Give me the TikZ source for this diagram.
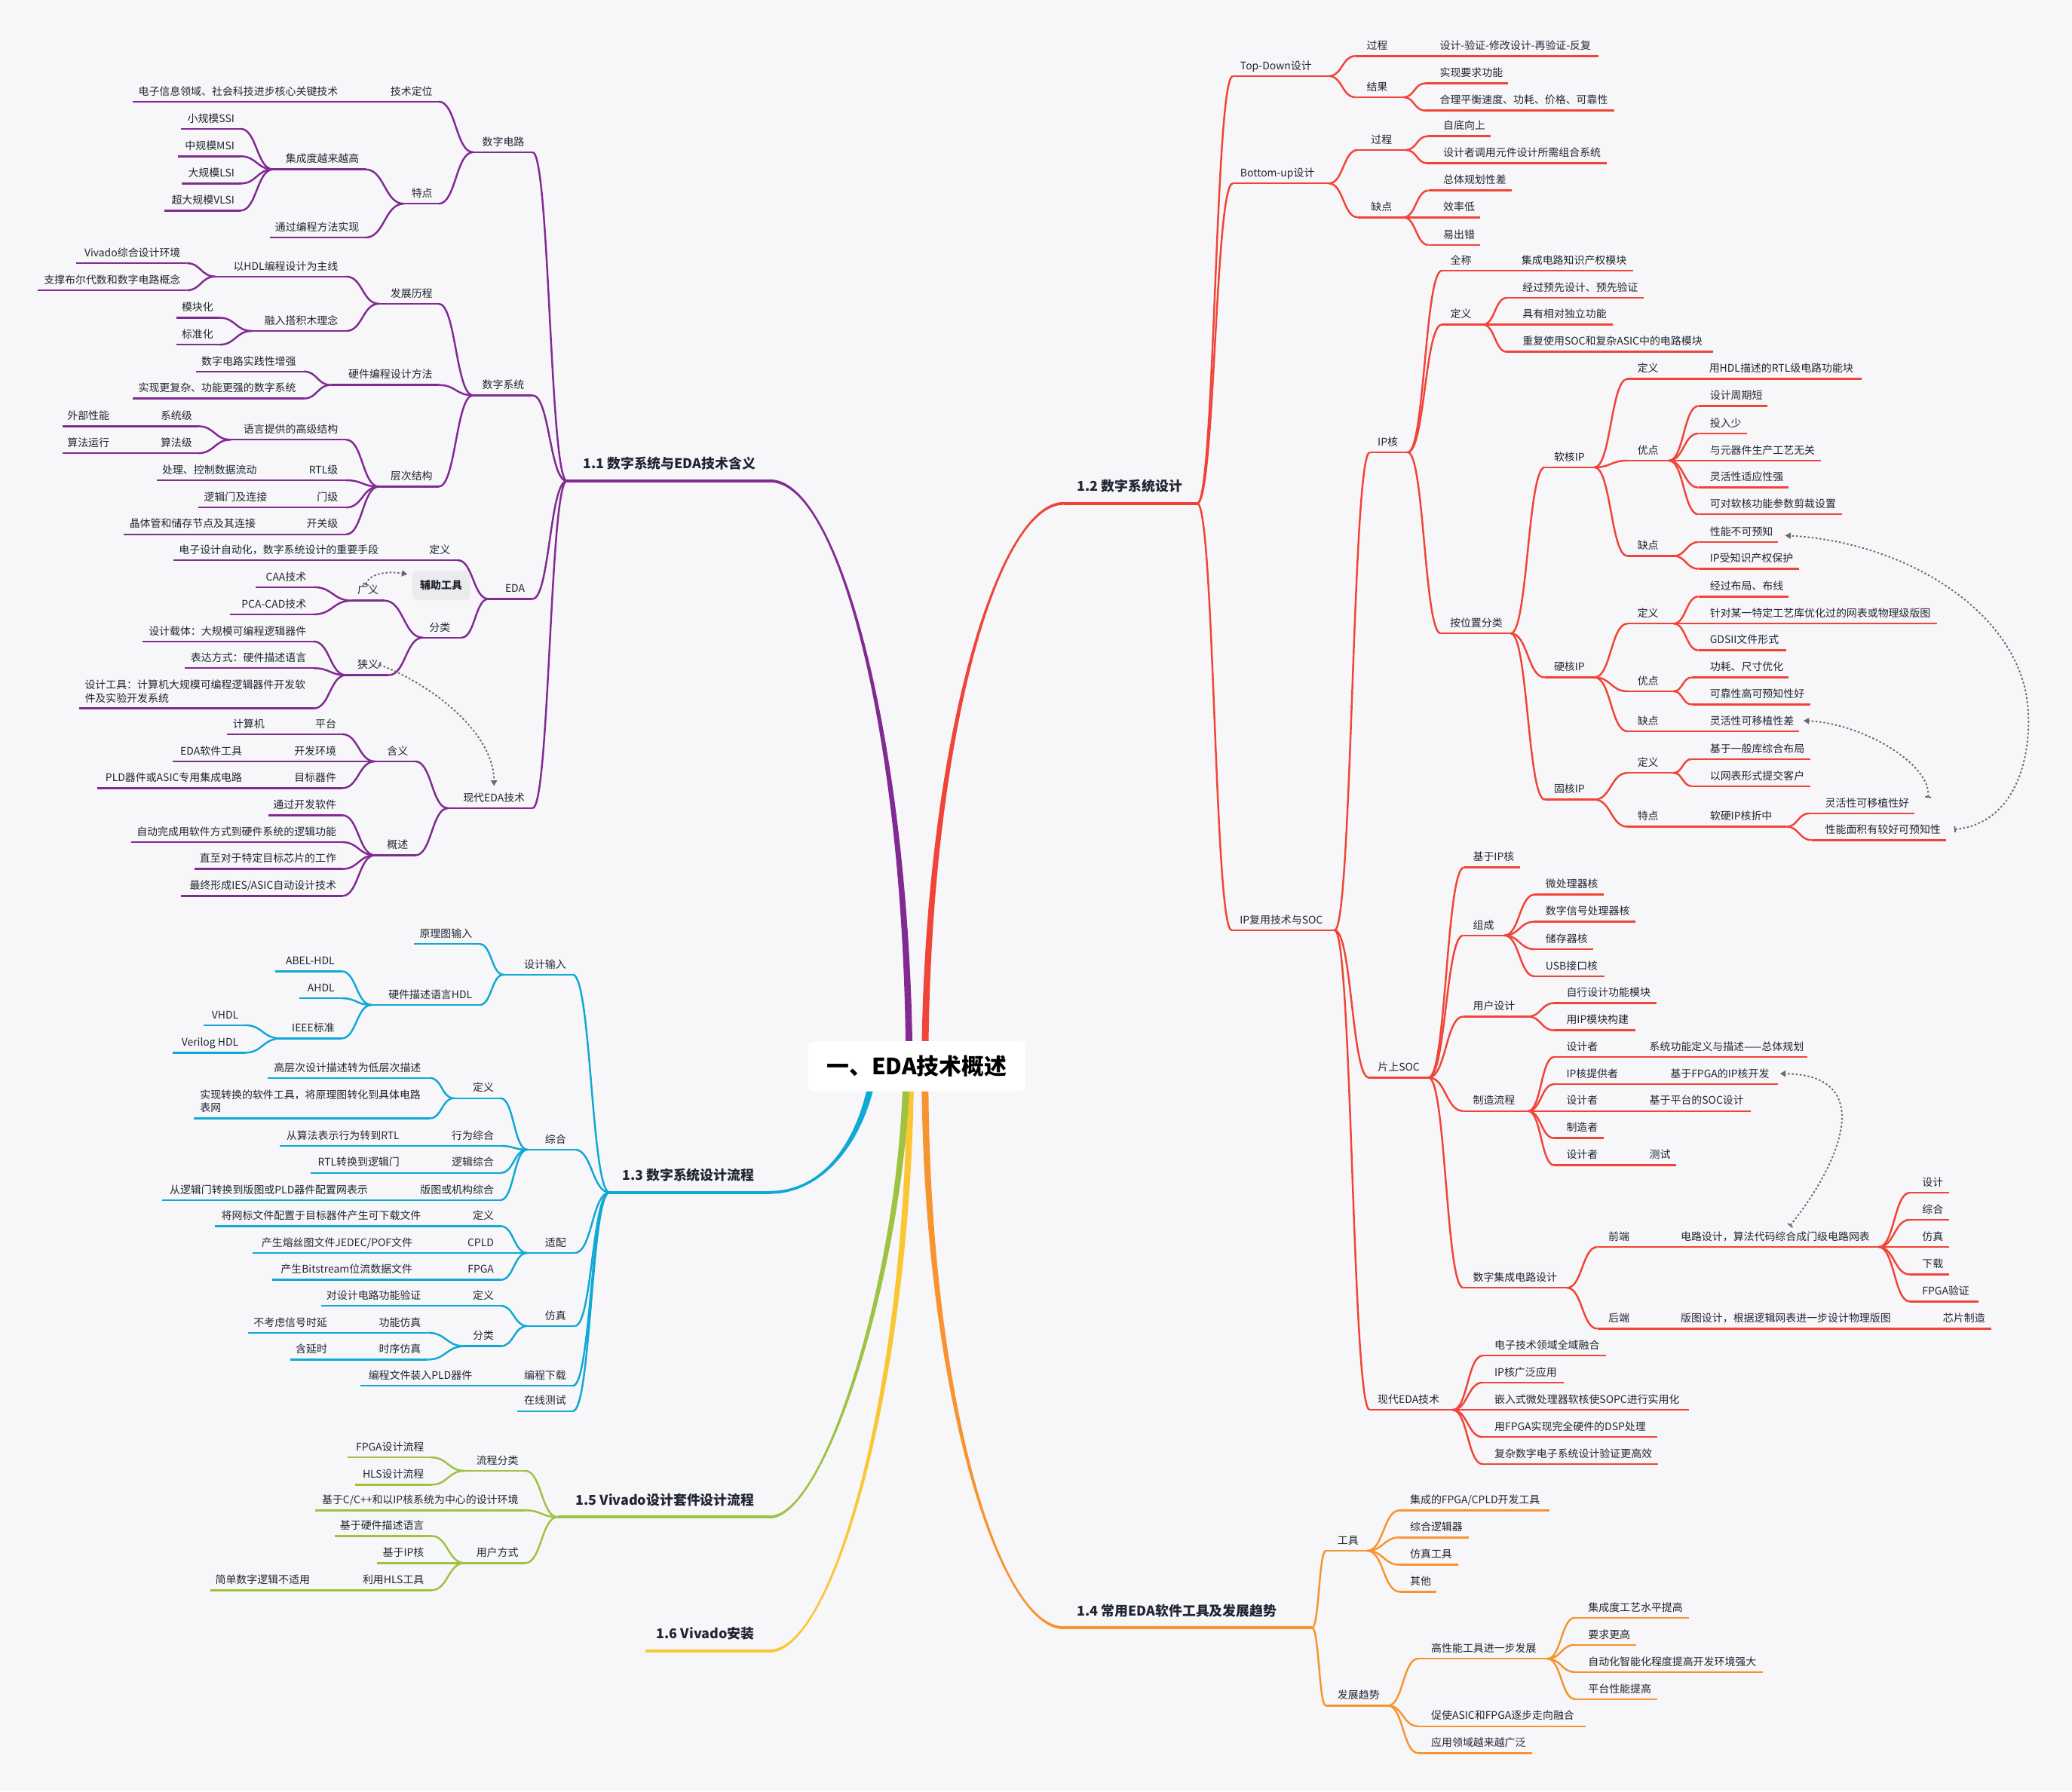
\documentclass[tikz,border=0pt]{standalone}
\usepackage{fontspec}
\setmainfont{Noto Sans CJK SC}
\usetikzlibrary{calc,arrows.meta}
\definecolor{bgc}{RGB}{247,247,249}
\definecolor{txc}{RGB}{33,37,51}
\definecolor{cpur}{RGB}{128,42,146}
\definecolor{cred}{RGB}{240,68,56}
\definecolor{ccya}{RGB}{16,168,212}
\definecolor{cgre}{RGB}{158,194,66}
\definecolor{cyel}{RGB}{250,198,52}
\definecolor{cora}{RGB}{247,148,48}
\definecolor{relc}{RGB}{105,105,110}
\definecolor{auxc}{RGB}{235,235,237}
\colorlet{bc}{cpur}
\tikzset{
 tx/.style={font=\fontsize{7.95}{10.2}\selectfont, text=txc, inner sep=0pt},
 ttl/.style={font=\fontsize{10.2}{12}\selectfont\bfseries, text=txc, inner sep=0pt},
 ul/.style={draw=bc, line width=1.4pt},
 ulone/.style={draw=bc, line width=2.2pt},
 cx/.style={draw=bc, line width=1.4pt},
 rel/.style={draw=relc, line width=1.1pt, dash pattern=on 1.4pt off 1.6pt,
   arrows={Bar[width=4.5pt,line width=1.1pt]-Triangle[width=4.6pt,length=4.2pt]}},
}
% left-side topic: name, x1, x2, y, text right edge, text
\newcommand\TopL[6]{%
  \coordinate (#1-l) at (#2,#4);
  \coordinate (#1-r) at (#3,#4);
  \draw[ul] (#1-l) -- (#1-r);
  \node[tx,anchor=base east] (#1) at (#5,#4-5) {#6};}
% right-side topic: name, x1, x2, y, text left edge, text
\newcommand\TopR[6]{%
  \coordinate (#1-l) at (#2,#4);
  \coordinate (#1-r) at (#3,#4);
  \draw[ul] (#1-l) -- (#1-r);
  \node[tx,anchor=base west] (#1) at (#5,#4-5) {#6};}
\newcommand\TitL[6]{%
  \coordinate (#1-l) at (#2,#4);
  \coordinate (#1-r) at (#3,#4);
  \draw[ulone] (#1-l) -- (#1-r);
  \node[ttl,anchor=base east] (#1) at (#5,#4-9.2) {#6};}
\newcommand\TitR[6]{%
  \coordinate (#1-l) at (#2,#4);
  \coordinate (#1-r) at (#3,#4);
  \draw[ulone] (#1-l) -- (#1-r);
  \node[ttl,anchor=base west] (#1) at (#5,#4-9.2) {#6};}
\newcommand\Cn[2]{\draw[cx] let \p1=(#1),\p2=(#2) in (\p1) .. controls ({0.5*\x1+0.5*\x2},\y1) and ({0.5*\x1+0.5*\x2},\y2) .. (\p2);}
\newcommand\CL[2]{\foreach \cc in {#2}{\Cn{#1-l}{\cc-r}}}
\newcommand\CR[2]{\foreach \cc in {#2}{\Cn{#1-r}{\cc-l}}}
\begin{document}
\begin{tikzpicture}[x=1pt,y=-1pt]
\fill[bgc] (0,0) rectangle (1568,1356);
\useasboundingbox (0,0) rectangle (1568,1356);

% ---------------- main branches (tapered) ----------------
\fill[cpur] (583,362.9) .. controls (635,362.9) and (688,560) .. (690.6,800) -- (685.4,800) .. controls (684,560) and (635,365.1) .. (583,365.1) -- cycle;
\fill[cred] (805,379.9) .. controls (755,379.9) and (700,560) .. (697.4,800) -- (702.6,800) .. controls (704,560) and (755,382.1) .. (805,382.1) -- cycle;
\fill[ccya] (582.5,901.4) .. controls (625,901.4) and (652.5,860) .. (659.4,805) -- (664.6,805) .. controls (657.5,860) and (625,903.6) .. (582.5,903.6) -- cycle;
\fill[cyel] (582.5,1248.5) .. controls (630,1248.5) and (686,1050) .. (686.4,810) -- (691.6,810) .. controls (690,1050) and (630,1250.7) .. (582.5,1250.7) -- cycle;
\fill[cgre] (582.5,1147.1) .. controls (625,1147.1) and (681,960) .. (683.4,810) -- (688.6,810) .. controls (685,960) and (625,1149.3) .. (582.5,1149.3) -- cycle;
\fill[cora] (805,1230.9) .. controls (755,1230.9) and (702,1050) .. (702.6,810) -- (697.4,810) .. controls (698,1050) and (755,1233.1) .. (805,1233.1) -- cycle;

% ---------------- 1.1 purple ----------------
\begin{scope}
\colorlet{bc}{cpur}
\TitL{A}{429}{583}{364}{572}{1.1 数字系统与EDA技术含义}
\TopL{a1}{358}{403}{115.2}{397}{数字电路}
\TopL{a11}{291}{332}{76.9}{327.5}{技术定位}
\TopL{a111}{100.4}{261}{76.9}{256}{电子信息领域、社会科技进步核心关键技术}
\TopL{a12}{305.6}{332}{154.2}{327.5}{特点}
\TopL{a121}{206.7}{276.5}{128.2}{272}{集成度越来越高}
\TopL{a1211}{136.8}{182}{97.5}{177.6}{小规模SSI}
\TopL{a1212}{134.8}{182}{118.3}{177.6}{中规模MSI}
\TopL{a1213}{137.4}{182}{138.9}{177.6}{大规模LSI}
\TopL{a1214}{124.3}{182}{159.4}{177.6}{超大规模VLSI}
\TopL{a122}{204.4}{276.5}{179.8}{272}{通过编程方法实现}
\TopL{a2}{358}{403}{299.2}{397}{数字系统}
\TopL{a21}{286.7}{332}{229.9}{327.5}{发展历程}
\TopL{a211}{163}{262}{209.3}{256}{以HDL编程设计为主线}
\TopL{a2111}{57.6}{141.2}{199.2}{136.8}{Vivado综合设计环境}
\TopL{a2112}{28.5}{141.2}{219.7}{136.8}{支撑布尔代数和数字电路概念}
\TopL{a212}{190.7}{262}{250.5}{256}{融入搭积木理念}
\TopL{a2121}{133.3}{166}{240.5}{161.6}{模块化}
\TopL{a2122}{133.3}{166}{260.9}{161.6}{标准化}
\TopL{a22}{250.3}{332}{291.4}{327.5}{硬件编程设计方法}
\TopL{a221}{148.5}{230}{281.2}{224.2}{数字电路实践性增强}
\TopL{a222}{100.4}{230}{301.6}{224.2}{实现更复杂、功能更强的数字系统}
\TopL{a23}{286.7}{332}{368.3}{327.5}{层次结构}
\TopL{a231}{174.7}{262}{332.8}{256}{语言提供的高级结构}
\TopL{a2311}{117.9}{150}{322.6}{145.6}{系统级}
\TopL{a23111}{47.2}{87.3}{322.6}{83}{外部性能}
\TopL{a2312}{117.9}{150}{343}{145.6}{算法级}
\TopL{a23121}{47.2}{87.3}{343}{83}{算法运行}
\TopL{a232}{230}{262}{363.5}{256}{RTL级}
\TopL{a2321}{118.8}{199.4}{363.5}{194.5}{处理、控制数据流动}
\TopL{a233}{235.8}{262}{384.1}{256}{门级}
\TopL{a2331}{150}{206.7}{384.1}{202.3}{逻辑门及连接}
\TopL{a234}{228.5}{262}{404.4}{256}{开关级}
\TopL{a2341}{93.7}{198}{404.4}{193.6}{晶体管和储存节点及其连接}
\TopL{a3}{369.7}{403}{453.3}{397.4}{EDA}
\TopL{a31}{320}{346.4}{424}{341}{定义}
\TopL{a311}{131}{291}{424}{286.7}{电子设计自动化，数字系统设计的重要手段}
\TopL{a32}{320}{349.3}{482.6}{341}{分类}
\TopL{a321}{266.4}{291}{454.6}{286.7}{广义}
\TopL{a3211}{193.6}{237.3}{444.4}{232}{CAA技术}
\TopL{a3212}{174}{237.3}{465}{232}{PCA-CAD技术}
\TopL{a322}{262}{294}{511}{286.7}{狭义}
\TopL{a3221}{107.7}{237.3}{485.5}{232}{设计载体：大规模可编程逻辑器件}
\TopL{a3222}{139.7}{237.3}{505.7}{232}{表达方式：硬件描述语言}
\coordinate (a3223-l) at (59.7,536.2);
\coordinate (a3223-r) at (237.3,536.2);
\draw[ul] (a3223-l) -- (a3223-r);
\node[tx,anchor=south west,align=left] (a3223) at (64,532.2) {设计工具：计算机大规模可编程逻辑器件开发软\\件及实验开发系统};
\TopL{a4}{339}{403}{611.7}{397.4}{现代EDA技术}
\TopL{a41}{283.8}{314.4}{576.3}{309}{含义}
\TopL{a411}{234.3}{259}{555.7}{254.7}{平台}
\TopL{a4111}{171.7}{205.2}{555.7}{200.3}{计算机}
\TopL{a412}{218.3}{259}{576.3}{254.7}{开发环境}
\TopL{a4121}{130.4}{188.6}{576.3}{183.4}{EDA软件工具}
\TopL{a413}{218.3}{259}{596.5}{254.7}{目标器件}
\TopL{a4131}{73.4}{188.6}{596.5}{183.4}{PLD器件或ASIC专用集成电路}
\TopL{a42}{283.8}{314.4}{647.3}{309}{概述}
\TopL{a421}{203}{259}{617}{254.7}{通过开发软件}
\TopL{a422}{99}{259}{637.4}{254.7}{自动完成用软件方式到硬件系统的逻辑功能}
\TopL{a423}{147}{259}{657.7}{254.7}{直至对于特定目标芯片的工作}
\TopL{a424}{136.8}{259}{678.1}{254.7}{最终形成IES/ASIC自动设计技术}
\CL{A}{a1,a2,a3,a4}
\CL{a1}{a11,a12}
\CL{a11}{a111}
\CL{a12}{a121,a122}
\CL{a121}{a1211,a1212,a1213,a1214}
\CL{a2}{a21,a22,a23}
\CL{a21}{a211,a212}
\CL{a211}{a2111,a2112}
\CL{a212}{a2121,a2122}
\CL{a22}{a221,a222}
\CL{a23}{a231,a232,a233,a234}
\CL{a231}{a2311,a2312}
\CL{a2311}{a23111}
\CL{a2312}{a23121}
\CL{a232}{a2321}
\CL{a233}{a2331}
\CL{a234}{a2341}
\CL{a3}{a31,a32}
\CL{a31}{a311}
\CL{a32}{a321,a322}
\CL{a321}{a3211,a3212}
\CL{a322}{a3221,a3222,a3223}
\CL{a4}{a41,a42}
\CL{a41}{a411,a412,a413}
\CL{a411}{a4111}
\CL{a412}{a4121}
\CL{a413}{a4131}
\CL{a42}{a421,a422,a423,a424}
\end{scope}
\node[fill=auxc, rounded corners=4pt, minimum width=43.7pt, minimum height=22.4pt, inner sep=0pt, font=\fontsize{7.95}{9}\selectfont\bfseries, text=txc] (aux) at (333.85,443.1) {辅助工具};

% ---------------- 1.3 cyan ----------------
\begin{scope}
\colorlet{bc}{ccya}
\TitL{C}{461.3}{582.5}{902.5}{571}{1.3 数字系统设计流程}
\TopL{c1}{381}{433.5}{737.7}{428.6}{设计输入}
\TopL{c11}{313.3}{363}{714.5}{357.5}{原理图输入}
\TopL{c12}{281.2}{363}{760.6}{357.5}{硬件描述语言HDL}
\TopL{c121}{208.2}{258.3}{735.1}{253.4}{ABEL-HDL}
\TopL{c122}{226.5}{258.3}{755.5}{253.4}{AHDL}
\TopL{c123}{212.4}{258.3}{786}{253.4}{IEEE标准}
\TopL{c1231}{154.1}{185.2}{775.9}{180.6}{VHDL}
\TopL{c1232}{130.5}{185.2}{796.8}{180.6}{Verilog HDL}
\TopL{c2}{399}{435}{870.1}{428.6}{综合}
\TopL{c21}{343.4}{378.8}{831.2}{373.9}{定义}
\TopL{c211}{202.6}{325.4}{815.9}{318.8}{高层次设计描述转为低层次描述}
\coordinate (c212-l) at (146.9,846.4);
\coordinate (c212-r) at (325.4,846.4);
\draw[ul] (c212-l) -- (c212-r);
\node[tx,anchor=south west,align=left] (c212) at (151.2,842.4) {实现转换的软件工具，将原理图转化到具体电路\\表网};
\TopL{c22}{336.9}{378.8}{867.3}{373.9}{行为综合}
\TopL{c221}{211.8}{307.4}{867.3}{302.5}{从算法表示行为转到RTL}
\TopL{c23}{336.9}{378.8}{887.7}{373.9}{逻辑综合}
\TopL{c231}{235.3}{307.4}{887.7}{302.5}{RTL转换到逻辑门}
\TopL{c24}{313.3}{378.8}{908.3}{373.9}{版图或机构综合}
\TopL{c241}{122.4}{283.8}{908.3}{278.6}{从逻辑门转换到版图或PLD器件配置网表示}
\TopL{c3}{399}{435}{948.3}{428.6}{适配}
\TopL{c31}{353.2}{378.8}{928}{373.9}{定义}
\TopL{c311}{162.6}{323.8}{928}{318.8}{将网标文件配置于目标器件产生可下载文件}
\TopL{c32}{347.7}{378.8}{948.3}{373.9}{CPLD}
\TopL{c321}{191.1}{317.2}{948.3}{312.3}{产生熔丝图文件JEDEC/POF文件}
\TopL{c33}{346.7}{378.8}{968.7}{373.9}{FPGA}
\TopL{c331}{205.9}{317.2}{968.7}{312.3}{产生Bitstream位流数据文件}
\TopL{c4}{399}{435}{1003.6}{428.6}{仿真}
\TopL{c41}{353.2}{378.8}{988.3}{373.9}{定义}
\TopL{c411}{242.9}{323.8}{988.3}{318.8}{对设计电路功能验证}
\TopL{c42}{351.6}{378.8}{1018.9}{373.9}{分类}
\TopL{c421}{282.2}{323.8}{1008.7}{318.8}{功能仿真}
\TopL{c4211}{187.9}{253.4}{1008.7}{247.8}{不考虑信号时延}
\TopL{c422}{282.2}{323.8}{1029}{318.8}{时序仿真}
\TopL{c4221}{219.6}{253.4}{1029}{247.8}{含延时}
\TopL{c5}{390.9}{433.5}{1048.9}{428.6}{编程下载}
\TopL{c51}{273}{363}{1048.9}{357.5}{编程文件装入PLD器件}
\TopL{c6}{391.6}{433.5}{1068}{428.6}{在线测试}
\CL{C}{c1,c2,c3,c4,c5,c6}
\CL{c1}{c11,c12}
\CL{c12}{c121,c122,c123}
\CL{c123}{c1231,c1232}
\CL{c2}{c21,c22,c23,c24}
\CL{c21}{c211,c212}
\CL{c22}{c221}
\CL{c23}{c231}
\CL{c24}{c241}
\CL{c3}{c31,c32,c33}
\CL{c31}{c311}
\CL{c32}{c321}
\CL{c33}{c331}
\CL{c4}{c41,c42}
\CL{c41}{c411}
\CL{c42}{c421,c422}
\CL{c421}{c4211}
\CL{c422}{c4221}
\CL{c5}{c51}
\end{scope}

% ---------------- 1.5 green ----------------
\begin{scope}
\colorlet{bc}{cgre}
\TitL{G}{422}{582.5}{1148.2}{571}{1.5 Vivado设计套件设计流程}
\TopL{g1}{351.6}{397.5}{1113.2}{392.5}{流程分类}
\TopL{g11}{263.2}{326.4}{1103.1}{321.1}{FPGA设计流程}
\TopL{g12}{269}{326.4}{1123.7}{321.1}{HLS设计流程}
\TopL{g2}{238.6}{397.5}{1143.1}{392.5}{基于C/C++和以IP核系统为中心的设计环境}
\TopL{g3}{351.6}{397.5}{1183}{392.5}{用户方式}
\TopL{g31}{253.4}{326.4}{1162.5}{321.1}{基于硬件描述语言}
\TopL{g32}{285.4}{326.4}{1183}{321.1}{基于IP核}
\TopL{g33}{269}{326.4}{1203.6}{321.1}{利用HLS工具}
\TopL{g331}{159}{239.6}{1203.6}{234.7}{简单数字逻辑不适用}
\CL{G}{g1,g2,g3}
\CL{g1}{g11,g12}
\CL{g3}{g31,g32,g33}
\CL{g33}{g331}
\end{scope}

% ---------------- 1.6 yellow ----------------
\begin{scope}
\colorlet{bc}{cyel}
\TitL{Y}{488.5}{582.5}{1249.6}{571}{1.6 Vivado安装}
\end{scope}

% ---------------- 1.2 red ----------------
\begin{scope}
\colorlet{bc}{cred}
\TitR{R}{805}{906}{381}{815}{1.2 数字系统设计}
\TopR{r1}{932.9}{1005.7}{57.6}{938.4}{Top-Down设计}
\TopR{r11}{1025.7}{1084}{42.4}{1034}{过程}
\TopR{r111}{1084}{1209.5}{42.4}{1089.4}{设计-验证-修改设计-再验证-反复}
\TopR{r12}{1025.7}{1062.1}{73.6}{1034}{结果}
\TopR{r121}{1078.5}{1141.4}{63.1}{1089.4}{实现要求功能}
\TopR{r122}{1078.5}{1221.5}{83.7}{1089.4}{合理平衡速度、功耗、价格、可靠性}
\TopR{r2}{932.9}{1005.7}{138.8}{938.4}{Bottom-up设计}
\TopR{r21}{1027.5}{1063.9}{113.5}{1037.4}{过程}
\TopR{r211}{1080.3}{1128.3}{103.1}{1092}{自底向上}
\TopR{r212}{1080.3}{1216}{123.6}{1092}{设计者调用元件设计所需组合系统}
\TopR{r22}{1027.5}{1062.1}{164.5}{1037.4}{缺点}
\TopR{r221}{1081}{1144.3}{144.2}{1092}{总体规划性差}
\TopR{r222}{1081}{1120.3}{164.5}{1092}{效率低}
\TopR{r223}{1081}{1120.3}{185.4}{1092}{易出错}
\TopR{r3}{932}{1010}{704}{938}{IP复用技术与SOC}
\TopR{r31}{1036.6}{1065.3}{342.3}{1042.4}{IP核}
\TopR{r311}{1091.2}{1129.4}{204.8}{1097.4}{全称}
\TopR{r3111}{1145.8}{1236}{204.8}{1151.2}{集成电路知识产权模块}
\TopR{r312}{1091.2}{1122.2}{245.7}{1097.4}{定义}
\TopR{r3121}{1140.3}{1244.1}{225.4}{1152}{经过预先设计、预先验证}
\TopR{r3122}{1140.3}{1220.4}{245.7}{1152}{具有相对独立功能}
\TopR{r3123}{1140.3}{1296.1}{266.3}{1152}{重复使用SOC和复杂ASIC中的电路模块}
\TopR{r313}{1090.3}{1143.3}{479.4}{1097.1}{按位置分类}
\TopR{r3131}{1169}{1206.6}{353.7}{1175.8}{软核IP}
\TopR{r31311}{1231.6}{1287}{286.8}{1239}{定义}
\TopR{r313111}{1287}{1409}{286.8}{1293.2}{用HDL描述的RTL级电路功能块}
\TopR{r31312}{1231.6}{1263}{348.6}{1239}{优点}
\TopR{r313121}{1285.3}{1337.6}{307.3}{1293.8}{设计周期短}
\TopR{r313122}{1285.3}{1321.9}{328.1}{1293.8}{投入少}
\TopR{r313123}{1285.3}{1377.7}{348.6}{1293.8}{与元器件生产工艺无关}
\TopR{r313124}{1285.3}{1353.7}{369}{1293.8}{灵活性适应性强}
\TopR{r313125}{1285.3}{1393.7}{389.3}{1293.8}{可对软核功能参数剪裁设置}
\TopR{r31313}{1231.6}{1266.5}{420.8}{1239}{缺点}
\TopR{r313131}{1285.3}{1345.2}{410.3}{1293.8}{性能不可预知}
\TopR{r313132}{1285.3}{1361.6}{430.5}{1293.8}{IP受知识产权保护}
\TopR{r3132}{1169}{1206.6}{512.7}{1175.8}{硬核IP}
\TopR{r31321}{1231.6}{1266.5}{472}{1239}{定义}
\TopR{r313211}{1285.3}{1353.7}{451.5}{1293.8}{经过布局、布线}
\TopR{r313212}{1285.3}{1465.6}{472}{1293.8}{针对某一特定工艺库优化过的网表或物理级版图}
\TopR{r313213}{1285.3}{1352}{492.2}{1293.8}{GDSII文件形式}
\TopR{r31322}{1231.6}{1266.5}{523.2}{1239}{优点}
\TopR{r313221}{1280.2}{1353.7}{512.7}{1293.8}{功耗、尺寸优化}
\TopR{r313222}{1280.2}{1369.8}{533.2}{1293.8}{可靠性高可预知性好}
\TopR{r31323}{1231.6}{1287}{553.5}{1239}{缺点}
\TopR{r313231}{1287}{1361.6}{553.5}{1293.8}{灵活性可移植性差}
\TopR{r3133}{1169}{1206.6}{605.2}{1175.8}{固核IP}
\TopR{r31331}{1231.6}{1266.5}{585}{1239}{定义}
\TopR{r313311}{1280.2}{1370.1}{574.5}{1293.8}{基于一般库综合布局}
\TopR{r313312}{1280.2}{1370.1}{595}{1293.8}{以网表形式提交客户}
\TopR{r31332}{1231.6}{1287}{625.7}{1239}{特点}
\TopR{r313321}{1287}{1352}{625.7}{1293.8}{软硬IP核折中}
\TopR{r3133211}{1369}{1448.5}{615.7}{1381}{灵活性可移植性好}
\TopR{r3133212}{1370.9}{1472.5}{635.8}{1381}{性能面积有较好可预知性}
\TopR{r32}{1035.9}{1081.1}{815.6}{1042.5}{片上SOC}
\TopR{r321}{1107.9}{1150.5}{656.5}{1114.5}{基于IP核}
\TopR{r322}{1107.3}{1138.4}{708}{1114.5}{组成}
\TopR{r3221}{1161.3}{1213.7}{677.1}{1169.5}{微处理器核}
\TopR{r3222}{1161.3}{1237.7}{697.6}{1169.5}{数字信号处理器核}
\TopR{r3223}{1161.3}{1205.5}{718.4}{1169.5}{储存器核}
\TopR{r3224}{1161.3}{1214.4}{738.9}{1169.5}{USB接口核}
\TopR{r323}{1107.3}{1156.4}{769.4}{1114.5}{用户设计}
\TopR{r3231}{1176.1}{1253.7}{759.2}{1185.2}{自行设计功能模块}
\TopR{r3232}{1176.1}{1237.7}{779.8}{1185.2}{用IP模块构建}
\TopR{r324}{1107.3}{1156.4}{840.9}{1114.5}{制造流程}
\TopR{r3241}{1176.1}{1231.8}{800}{1185.2}{设计者}
\TopR{r32411}{1231.8}{1367.7}{800}{1248.1}{系统功能定义与描述——总体规划}
\TopR{r3242}{1176.1}{1244.9}{820.6}{1185.2}{IP核提供者}
\TopR{r32421}{1244.9}{1345.7}{820.6}{1263.9}{基于FPGA的IP核开发}
\TopR{r3243}{1176.1}{1231.8}{840.9}{1185.2}{设计者}
\TopR{r32431}{1231.8}{1325.1}{840.9}{1248.1}{基于平台的SOC设计}
\TopR{r3244}{1176.1}{1213.7}{861.4}{1185.2}{制造者}
\TopR{r3245}{1176.1}{1231.8}{881.9}{1185.2}{设计者}
\TopR{r32451}{1231.8}{1268.4}{881.9}{1248.1}{测试}
\TopR{r325}{1107.3}{1185.9}{974.7}{1114.5}{数字集成电路设计}
\TopR{r3251}{1208.8}{1258}{943.8}{1217}{前端}
\TopR{r32511}{1258}{1421.7}{943.8}{1271.7}{电路设计，算法代码综合成门级电路网表}
\TopR{r325111}{1445.3}{1474.8}{902.7}{1454.5}{设计}
\TopR{r325112}{1445.3}{1474.8}{923.2}{1454.5}{综合}
\TopR{r325113}{1445.3}{1474.8}{943.8}{1454.5}{仿真}
\TopR{r325114}{1445.3}{1474.8}{964.6}{1454.5}{下载}
\TopR{r325115}{1445.3}{1497}{985.1}{1454.5}{FPGA验证}
\TopR{r3252}{1208.8}{1258}{1005.6}{1217}{后端}
\TopR{r32521}{1258}{1440}{1005.6}{1271.7}{版图设计，根据逻辑网表进一步设计物理版图}
\TopR{r325211}{1440}{1506.9}{1005.6}{1470.2}{芯片制造}
\TopR{r33}{1036.5}{1099.3}{1067.1}{1042.4}{现代EDA技术}
\TopR{r331}{1122}{1215.3}{1026}{1130.8}{电子技术领域全域融合}
\TopR{r332}{1122}{1183.2}{1046.4}{1130.8}{IP核广泛应用}
\TopR{r333}{1122}{1278.2}{1067.1}{1130.8}{嵌入式微处理器软核使SOPC进行实用化}
\TopR{r334}{1122}{1254.1}{1087.6}{1130.8}{用FPGA实现完全硬件的DSP处理}
\TopR{r335}{1122}{1254.8}{1108.1}{1130.8}{复杂数字电子系统设计验证更高效}
\CR{R}{r1,r2,r3}
\CR{r1}{r11,r12}
\CR{r11}{r111}
\CR{r12}{r121,r122}
\CR{r2}{r21,r22}
\CR{r21}{r211,r212}
\CR{r22}{r221,r222,r223}
\CR{r3}{r31,r32,r33}
\CR{r31}{r311,r312,r313}
\CR{r311}{r3111}
\CR{r312}{r3121,r3122,r3123}
\CR{r313}{r3131,r3132,r3133}
\CR{r3131}{r31311,r31312,r31313}
\CR{r31311}{r313111}
\CR{r31312}{r313121,r313122,r313123,r313124,r313125}
\CR{r31313}{r313131,r313132}
\CR{r3132}{r31321,r31322,r31323}
\CR{r31321}{r313211,r313212,r313213}
\CR{r31322}{r313221,r313222}
\CR{r31323}{r313231}
\CR{r3133}{r31331,r31332}
\CR{r31331}{r313311,r313312}
\CR{r31332}{r313321}
\CR{r313321}{r3133211,r3133212}
\CR{r32}{r321,r322,r323,r324,r325}
\CR{r322}{r3221,r3222,r3223,r3224}
\CR{r323}{r3231,r3232}
\CR{r324}{r3241,r3242,r3243,r3244,r3245}
\CR{r3241}{r32411}
\CR{r3242}{r32421}
\CR{r3243}{r32431}
\CR{r3245}{r32451}
\CR{r325}{r3251,r3252}
\CR{r3251}{r32511}
\CR{r32511}{r325111,r325112,r325113,r325114,r325115}
\CR{r3252}{r32521}
\CR{r32521}{r325211}
\CR{r33}{r331,r332,r333,r334,r335}
\end{scope}

% ---------------- 1.4 orange ----------------
\begin{scope}
\colorlet{bc}{cora}
\TitR{O}{805}{993}{1232}{815}{1.4 常用EDA软件工具及发展趋势}
\TopR{o1}{1003.3}{1034.7}{1173.7}{1012}{工具}
\TopR{o11}{1059.2}{1172.7}{1143.1}{1066.9}{集成的FPGA/CPLD开发工具}
\TopR{o12}{1059.2}{1111.6}{1163.6}{1066.9}{综合逻辑器}
\TopR{o13}{1059.2}{1103.5}{1184.3}{1066.9}{仿真工具}
\TopR{o14}{1059.2}{1087.1}{1204.7}{1066.9}{其他}
\TopR{o2}{1003.3}{1050.4}{1290.9}{1012}{发展趋势}
\TopR{o21}{1073.1}{1171}{1255.4}{1082.9}{高性能工具进一步发展}
\TopR{o211}{1191.9}{1278.2}{1224.4}{1201.7}{集成度工艺水平提高}
\TopR{o212}{1191.9}{1238}{1244.9}{1201.7}{要求更高}
\TopR{o213}{1191.9}{1334.1}{1265.5}{1201.7}{自动化智能化程度提高开发环境强大}
\TopR{o214}{1191.9}{1254.1}{1286}{1201.7}{平台性能提高}
\TopR{o22}{1073.1}{1199.9}{1306.5}{1082.9}{促使ASIC和FPGA逐步走向融合}
\TopR{o23}{1073.1}{1159.4}{1326.8}{1082.9}{应用领域越来越广泛}
\CR{O}{o1,o2}
\CR{o1}{o11,o12,o13,o14}
\CR{o2}{o21,o22,o23}
\CR{o21}{o211,o212,o213,o214}
\end{scope}

% ---------------- root ----------------
\node[fill=white, rounded corners=5pt, minimum width=164.5pt, minimum height=38pt, inner sep=0pt, font=\fontsize{17}{20}\selectfont\bfseries, text=black] (root) at (693.75,807) {一、EDA技术概述};

% ---------------- relationships ----------------
\coordinate (rel4m) at (1533,524);
\draw[rel] ([xshift=-2pt]a321.north) .. controls +(4,-10) and +(-12,-2) .. ([xshift=-3.5pt,yshift=8.5pt]aux.west);
\draw[rel] (a322.east) .. controls +(40,15) and +(0,-40) .. ([yshift=5pt]a4.north);
\draw[rel] ([xshift=14pt]r3133211.north east) .. controls +(3,-25) and +(45,2) .. ([xshift=7pt]r313231.east);
\draw[rel] ([xshift=10pt]r3133212.east) .. controls +(52,-5) and +(7,36) .. (rel4m) .. controls +(-13,-64) and +(90,5) .. ([xshift=9pt,yshift=-3pt]r313131.east);
\draw[rel] ([xshift=11pt,yshift=4pt]r32511.north) .. controls +(37,-46) and +(75,1) .. ([xshift=8pt]r32421.east);
\end{tikzpicture}
\end{document}
